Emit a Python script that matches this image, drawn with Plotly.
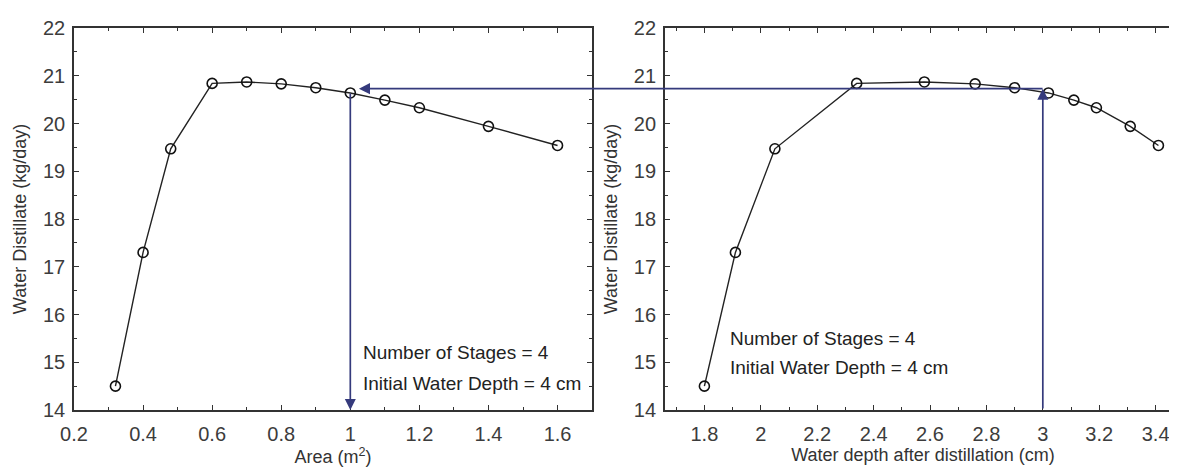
import plotly.graph_objects as go
from plotly.subplots import make_subplots

# ---- data ----
area = [0.32, 0.40, 0.48, 0.60, 0.70, 0.80, 0.90, 1.00, 1.10, 1.20, 1.40, 1.60]
depth_after = [1.80, 1.91, 2.05, 2.34, 2.58, 2.76, 2.90, 3.02, 3.11, 3.19, 3.31, 3.41]
distillate = [14.50, 17.30, 19.47, 20.84, 20.87, 20.83, 20.75, 20.64, 20.49, 20.33, 19.94, 19.54]

opt_area = 1.0
opt_depth = 3.0
opt_level = 20.73
y_min = 14.0

x1_ticks = [0.2, 0.4, 0.6, 0.8, 1.0, 1.2, 1.4, 1.6]
x1_labels = ["0.2", "0.4", "0.6", "0.8", "1", "1.2", "1.4", "1.6"]
x2_ticks = [1.8, 2.0, 2.2, 2.4, 2.6, 2.8, 3.0, 3.2, 3.4]
x2_labels = ["1.8", "2", "2.2", "2.4", "2.6", "2.8", "3", "3.2", "3.4"]
y_ticks = [14, 15, 16, 17, 18, 19, 20, 21, 22]

note_lines = ["Number of Stages = 4", "Initial Water Depth = 4 cm"]

# ---- layout geometry ----
W, H = 1177, 471
ML, MR, MT, MB = 66, 2, 20, 69
dom1 = [0.0, 0.468]
dom2 = [0.5338, 1.0]
x1_range = [0.2, 1.7]
x2_range = [1.66, 3.49]
y_range = [14, 22]

NAVY = "#353a7c"
FONT = "Liberation Sans Narrow, Arial Narrow, Liberation Sans, Arial, sans-serif"

fig = make_subplots(rows=1, cols=2, horizontal_spacing=0.0)

marker = dict(symbol="circle-open", size=10, color="#111111", line=dict(width=1.6, color="#111111"))
fig.add_trace(go.Scatter(x=area, y=distillate, mode="lines+markers",
                         line=dict(color="#222222", width=1.4), marker=marker,
                         showlegend=False), row=1, col=1)
fig.add_trace(go.Scatter(x=depth_after, y=distillate, mode="lines+markers",
                         line=dict(color="#222222", width=1.4), marker=marker,
                         showlegend=False), row=1, col=2)

axis_common = dict(showline=True, linecolor="#333333", linewidth=1.7, mirror="allticks",
                   ticks="inside", ticklen=5, tickcolor="#333333", tickwidth=1.3,
                   showgrid=False, zeroline=False,
                   tickfont=dict(family=FONT, size=20, color="#3c3c3c"))

fig.update_xaxes(**axis_common, ticklabelstandoff=5)
fig.update_yaxes(**axis_common, ticklabelstandoff=3)

title_font = dict(family=FONT, size=18, color="#333333")
fig.update_layout(
    xaxis=dict(domain=dom1, range=x1_range, tickvals=x1_ticks, ticktext=x1_labels,
               minor=dict(dtick=0.1, ticks="inside", ticklen=3, tickcolor="#333333"),
               title=dict(text="Area (m<sup>2</sup>)", standoff=1, font=title_font)),
    xaxis2=dict(domain=dom2, range=x2_range, tickvals=x2_ticks, ticktext=x2_labels,
                minor=dict(dtick=0.1, tick0=1.8, ticks="inside", ticklen=3, tickcolor="#333333"),
                title=dict(text="Water depth after distillation (cm)", standoff=1, font=title_font)),
    yaxis=dict(range=y_range, tickvals=y_ticks,
               minor=dict(dtick=0.5, ticks="inside", ticklen=3, tickcolor="#333333"),
               title=dict(text="Water Distillate (kg/day)", standoff=12, font=title_font)),
    yaxis2=dict(range=y_range, tickvals=y_ticks,
                minor=dict(dtick=0.5, ticks="inside", ticklen=3, tickcolor="#333333"),
                title=dict(text="Water Distillate (kg/day)", standoff=12, font=title_font)),
    width=W, height=H,
    margin=dict(l=ML, r=MR, t=MT, b=MB),
    paper_bgcolor="white", plot_bgcolor="white",
)

# pixel conversion helper for the long horizontal arrow spanning both panels
PW = W - ML - MR

def px_x(val, dom, rng):
    frac = (val - rng[0]) / (rng[1] - rng[0])
    return ML + PW * (dom[0] + frac * (dom[1] - dom[0]))

head_x = opt_area + 0.025
tail_px = px_x(opt_depth, dom2, x2_range)
head_px = px_x(head_x, dom1, x1_range)

annotations = [
    # vertical arrow, left panel (down to x-axis)
    dict(x=opt_area, y=y_min, xref="x", yref="y", axref="x", ayref="y",
         ax=opt_area, ay=20.66, showarrow=True, arrowhead=2, arrowsize=1.3,
         arrowwidth=1.7, arrowcolor=NAVY, text=""),
    # horizontal arrow across to the left panel
    dict(x=head_x, y=opt_level, xref="x", yref="y",
         ax=tail_px - head_px, ay=0, showarrow=True, arrowhead=2, arrowsize=1.3,
         arrowwidth=1.7, arrowcolor=NAVY, text=""),
    # vertical arrow, right panel (up to the level line)
    dict(x=opt_depth, y=opt_level, xref="x2", yref="y2", axref="x2", ayref="y2",
         ax=opt_depth, ay=y_min, showarrow=True, arrowhead=2, arrowsize=1.3,
         arrowwidth=1.7, arrowcolor=NAVY, text=""),
]

note_font = dict(family=FONT, size=19, color="#222222")
annotations += [
    dict(x=1.03, y=15.2, xref="x", yref="y", text=note_lines[0], showarrow=False,
         xanchor="left", yanchor="middle", font=note_font),
    dict(x=1.03, y=14.56, xref="x", yref="y", text=note_lines[1], showarrow=False,
         xanchor="left", yanchor="middle", font=note_font),
    dict(x=1.885, y=15.5, xref="x2", yref="y2", text=note_lines[0], showarrow=False,
         xanchor="left", yanchor="middle", font=note_font),
    dict(x=1.885, y=14.88, xref="x2", yref="y2", text=note_lines[1], showarrow=False,
         xanchor="left", yanchor="middle", font=note_font),
]
fig.update_layout(annotations=annotations)

fig.write_html("out.html")
